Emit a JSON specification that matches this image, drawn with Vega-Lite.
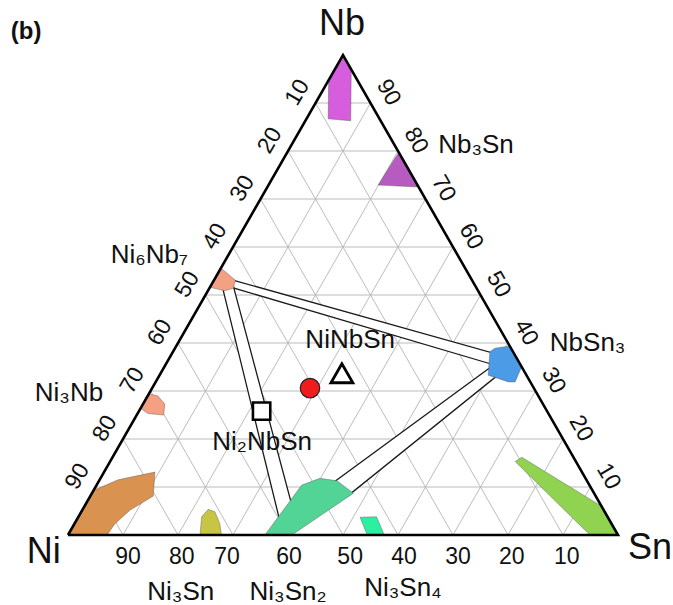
{
  "$schema": "https://vega.github.io/schema/vega-lite/v6.json",
  "width": 550,
  "height": 480,
  "autosize": {"type": "none"},
  "padding": {"left": 68, "top": 55, "right": 55, "bottom": 70},
  "background": "white",
  "config": {"view": {"stroke": null}, "text": {"font": "Liberation Sans", "color": "#111"}},
  "datasets": {
    "grid": [
      {"g": "h10", "kind": "h", "x": 5, "y": 10}, {"g": "h10", "kind": "h", "x": 95, "y": 10},
      {"g": "h20", "kind": "h", "x": 10, "y": 20}, {"g": "h20", "kind": "h", "x": 90, "y": 20},
      {"g": "h30", "kind": "h", "x": 15, "y": 30}, {"g": "h30", "kind": "h", "x": 85, "y": 30},
      {"g": "h40", "kind": "h", "x": 20, "y": 40}, {"g": "h40", "kind": "h", "x": 80, "y": 40},
      {"g": "h50", "kind": "h", "x": 25, "y": 50}, {"g": "h50", "kind": "h", "x": 75, "y": 50},
      {"g": "h60", "kind": "h", "x": 30, "y": 60}, {"g": "h60", "kind": "h", "x": 70, "y": 60},
      {"g": "h70", "kind": "h", "x": 35, "y": 70}, {"g": "h70", "kind": "h", "x": 65, "y": 70},
      {"g": "h80", "kind": "h", "x": 40, "y": 80}, {"g": "h80", "kind": "h", "x": 60, "y": 80},
      {"g": "h90", "kind": "h", "x": 45, "y": 90}, {"g": "h90", "kind": "h", "x": 55, "y": 90},
      {"g": "s10", "kind": "d", "x": 10, "y": 0}, {"g": "s10", "kind": "d", "x": 55, "y": 90},
      {"g": "s20", "kind": "d", "x": 20, "y": 0}, {"g": "s20", "kind": "d", "x": 60, "y": 80},
      {"g": "s30", "kind": "d", "x": 30, "y": 0}, {"g": "s30", "kind": "d", "x": 65, "y": 70},
      {"g": "s40", "kind": "d", "x": 40, "y": 0}, {"g": "s40", "kind": "d", "x": 70, "y": 60},
      {"g": "s50", "kind": "d", "x": 50, "y": 0}, {"g": "s50", "kind": "d", "x": 75, "y": 50},
      {"g": "s60", "kind": "d", "x": 60, "y": 0}, {"g": "s60", "kind": "d", "x": 80, "y": 40},
      {"g": "s70", "kind": "d", "x": 70, "y": 0}, {"g": "s70", "kind": "d", "x": 85, "y": 30},
      {"g": "s80", "kind": "d", "x": 80, "y": 0}, {"g": "s80", "kind": "d", "x": 90, "y": 20},
      {"g": "s90", "kind": "d", "x": 90, "y": 0}, {"g": "s90", "kind": "d", "x": 95, "y": 10},
      {"g": "n90", "kind": "d", "x": 10, "y": 0}, {"g": "n90", "kind": "d", "x": 5, "y": 10},
      {"g": "n80", "kind": "d", "x": 20, "y": 0}, {"g": "n80", "kind": "d", "x": 10, "y": 20},
      {"g": "n70", "kind": "d", "x": 30, "y": 0}, {"g": "n70", "kind": "d", "x": 15, "y": 30},
      {"g": "n60", "kind": "d", "x": 40, "y": 0}, {"g": "n60", "kind": "d", "x": 20, "y": 40},
      {"g": "n50", "kind": "d", "x": 50, "y": 0}, {"g": "n50", "kind": "d", "x": 25, "y": 50},
      {"g": "n40", "kind": "d", "x": 60, "y": 0}, {"g": "n40", "kind": "d", "x": 30, "y": 60},
      {"g": "n30", "kind": "d", "x": 70, "y": 0}, {"g": "n30", "kind": "d", "x": 35, "y": 70},
      {"g": "n20", "kind": "d", "x": 80, "y": 0}, {"g": "n20", "kind": "d", "x": 40, "y": 80},
      {"g": "n10", "kind": "d", "x": 90, "y": 0}, {"g": "n10", "kind": "d", "x": 45, "y": 90}
    ],
    "tieBands": [
      {"band": "Ni6Nb7-NbSn3", "o": 0, "x": 29, "y": 53.42},
      {"band": "Ni6Nb7-NbSn3", "o": 1, "x": 78, "y": 37.68},
      {"band": "Ni6Nb7-NbSn3", "o": 2, "x": 78, "y": 35.26},
      {"band": "Ni6Nb7-NbSn3", "o": 3, "x": 29, "y": 51.84},
      {"band": "Ni6Nb7-NbSn3", "o": 4, "x": 29, "y": 53.42},
      {"band": "Ni6Nb7-Ni3Sn2", "o": 0, "x": 28.0, "y": 52.0},
      {"band": "Ni6Nb7-Ni3Sn2", "o": 1, "x": 38.5, "y": 3.0},
      {"band": "Ni6Nb7-Ni3Sn2", "o": 2, "x": 40.75, "y": 6.0},
      {"band": "Ni6Nb7-Ni3Sn2", "o": 3, "x": 30.0, "y": 52.1},
      {"band": "Ni6Nb7-Ni3Sn2", "o": 4, "x": 28.0, "y": 52.0},
      {"band": "NbSn3-Ni3Sn2", "o": 0, "x": 78.5, "y": 36.36},
      {"band": "NbSn3-Ni3Sn2", "o": 1, "x": 48.0, "y": 10.74},
      {"band": "NbSn3-Ni3Sn2", "o": 2, "x": 51.0, "y": 8.26},
      {"band": "NbSn3-Ni3Sn2", "o": 3, "x": 78.5, "y": 33.62},
      {"band": "NbSn3-Ni3Sn2", "o": 4, "x": 78.5, "y": 36.36}
    ],
    "phases": [
      {"phase": "Nb", "o": 0, "x": 50, "y": 100},
      {"phase": "Nb", "o": 1, "x": 51.5, "y": 97},
      {"phase": "Nb", "o": 2, "x": 51.4, "y": 86.3},
      {"phase": "Nb", "o": 3, "x": 47.3, "y": 86.7},
      {"phase": "Nb", "o": 4, "x": 47.4, "y": 94.8},
      {"phase": "Nb", "o": 5, "x": 50, "y": 100},
      {"phase": "Nb3Sn", "o": 0, "x": 60.1, "y": 79.6},
      {"phase": "Nb3Sn", "o": 1, "x": 63.7, "y": 72.5},
      {"phase": "Nb3Sn", "o": 2, "x": 56.4, "y": 72.9},
      {"phase": "Nb3Sn", "o": 3, "x": 59.5, "y": 78.6},
      {"phase": "Nb3Sn", "o": 4, "x": 60.1, "y": 79.6},
      {"phase": "Ni6Nb7", "o": 0, "x": 27.8, "y": 55.6},
      {"phase": "Ni6Nb7", "o": 1, "x": 30.4, "y": 53.1},
      {"phase": "Ni6Nb7", "o": 2, "x": 30.1, "y": 51.4},
      {"phase": "Ni6Nb7", "o": 3, "x": 28.5, "y": 50.9},
      {"phase": "Ni6Nb7", "o": 4, "x": 25.8, "y": 51.6},
      {"phase": "Ni6Nb7", "o": 5, "x": 27.8, "y": 55.6},
      {"phase": "Ni3Nb", "o": 0, "x": 14.7, "y": 29.4},
      {"phase": "Ni3Nb", "o": 1, "x": 16.3, "y": 29.0},
      {"phase": "Ni3Nb", "o": 2, "x": 17.6, "y": 27.3},
      {"phase": "Ni3Nb", "o": 3, "x": 17.4, "y": 25.0},
      {"phase": "Ni3Nb", "o": 4, "x": 14.5, "y": 25.3},
      {"phase": "Ni3Nb", "o": 5, "x": 13.2, "y": 26.4},
      {"phase": "Ni3Nb", "o": 6, "x": 14.7, "y": 29.4},
      {"phase": "Ni", "o": 0, "x": 0, "y": 0},
      {"phase": "Ni", "o": 1, "x": 4.7, "y": 9.3},
      {"phase": "Ni", "o": 2, "x": 9.1, "y": 11.5},
      {"phase": "Ni", "o": 3, "x": 15.8, "y": 13.1},
      {"phase": "Ni", "o": 4, "x": 15.5, "y": 8.1},
      {"phase": "Ni", "o": 5, "x": 11.3, "y": 5.2},
      {"phase": "Ni", "o": 6, "x": 8.5, "y": 2.3},
      {"phase": "Ni", "o": 7, "x": 7.1, "y": 0},
      {"phase": "Ni", "o": 8, "x": 0, "y": 0},
      {"phase": "Ni3Sn", "o": 0, "x": 24.0, "y": 0},
      {"phase": "Ni3Sn", "o": 1, "x": 24.3, "y": 3.8},
      {"phase": "Ni3Sn", "o": 2, "x": 25.5, "y": 5.35},
      {"phase": "Ni3Sn", "o": 3, "x": 26.7, "y": 4.85},
      {"phase": "Ni3Sn", "o": 4, "x": 27.6, "y": 2.4},
      {"phase": "Ni3Sn", "o": 5, "x": 27.9, "y": 0},
      {"phase": "Ni3Sn", "o": 6, "x": 24.0, "y": 0},
      {"phase": "Ni3Sn2", "o": 0, "x": 35.8, "y": 0},
      {"phase": "Ni3Sn2", "o": 1, "x": 42.5, "y": 10.4},
      {"phase": "Ni3Sn2", "o": 2, "x": 45.8, "y": 11.8},
      {"phase": "Ni3Sn2", "o": 3, "x": 48.9, "y": 11.3},
      {"phase": "Ni3Sn2", "o": 4, "x": 51.9, "y": 8.7},
      {"phase": "Ni3Sn2", "o": 5, "x": 40.7, "y": 0},
      {"phase": "Ni3Sn2", "o": 6, "x": 35.8, "y": 0},
      {"phase": "Ni3Sn4", "o": 0, "x": 53.1, "y": 3.7},
      {"phase": "Ni3Sn4", "o": 1, "x": 56.1, "y": 3.8},
      {"phase": "Ni3Sn4", "o": 2, "x": 57.5, "y": 0},
      {"phase": "Ni3Sn4", "o": 3, "x": 54.4, "y": 0},
      {"phase": "Ni3Sn4", "o": 4, "x": 53.1, "y": 3.7},
      {"phase": "Sn", "o": 0, "x": 81.3, "y": 15.3},
      {"phase": "Sn", "o": 1, "x": 82.5, "y": 16.2},
      {"phase": "Sn", "o": 2, "x": 97.0, "y": 6.0},
      {"phase": "Sn", "o": 3, "x": 100, "y": 0},
      {"phase": "Sn", "o": 4, "x": 94.9, "y": 0},
      {"phase": "Sn", "o": 5, "x": 81.3, "y": 15.3},
      {"phase": "NbSn3", "o": 0, "x": 76.7, "y": 38.2},
      {"phase": "NbSn3", "o": 1, "x": 77.6, "y": 38.9},
      {"phase": "NbSn3", "o": 2, "x": 80.4, "y": 39.4},
      {"phase": "NbSn3", "o": 3, "x": 82.5, "y": 35.1},
      {"phase": "NbSn3", "o": 4, "x": 81.3, "y": 31.9},
      {"phase": "NbSn3", "o": 5, "x": 80.1, "y": 31.9},
      {"phase": "NbSn3", "o": 6, "x": 76.4, "y": 33.3},
      {"phase": "NbSn3", "o": 7, "x": 76.7, "y": 38.2}
    ],
    "frame": [
      {"o": 0, "x": 0, "y": 0},
      {"o": 1, "x": 100, "y": 0},
      {"o": 2, "x": 50, "y": 100},
      {"o": 3, "x": 0, "y": 0}
    ],
    "samples": [
      {"sample": "measured", "x": 44.0, "y": 30.6},
      {"sample": "NiNbSn", "x": 49.8, "y": 33.7},
      {"sample": "Ni2NbSn", "x": 35.2, "y": 25.8}
    ],
    "ticksLeft": [
      {"t": "10", "x": 41.7, "y": 92.2}, {"t": "20", "x": 36.7, "y": 82.2},
      {"t": "30", "x": 31.7, "y": 72.2}, {"t": "40", "x": 26.7, "y": 62.2},
      {"t": "50", "x": 21.7, "y": 52.2}, {"t": "60", "x": 16.7, "y": 42.2},
      {"t": "70", "x": 11.7, "y": 32.2}, {"t": "80", "x": 6.7, "y": 22.2},
      {"t": "90", "x": 1.7, "y": 12.2}
    ],
    "ticksRight": [
      {"t": "90", "x": 58.3, "y": 92.2}, {"t": "80", "x": 63.3, "y": 82.2},
      {"t": "70", "x": 68.3, "y": 72.2}, {"t": "60", "x": 73.3, "y": 62.2},
      {"t": "50", "x": 78.3, "y": 52.2}, {"t": "40", "x": 83.3, "y": 42.2},
      {"t": "30", "x": 88.3, "y": 32.2}, {"t": "20", "x": 93.3, "y": 22.2},
      {"t": "10", "x": 98.3, "y": 12.2}
    ],
    "ticksBottom": [
      {"t": "90", "x": 10.9, "y": -4.5}, {"t": "80", "x": 20.7, "y": -4.5},
      {"t": "70", "x": 28.9, "y": -4.5}, {"t": "60", "x": 40.2, "y": -4.5},
      {"t": "50", "x": 51.3, "y": -4.5}, {"t": "40", "x": 61.1, "y": -4.5},
      {"t": "30", "x": 70.9, "y": -4.5}, {"t": "20", "x": 80.7, "y": -4.5},
      {"t": "10", "x": 90.7, "y": -4.5}
    ],
    "vertexLabels": [
      {"t": "Nb", "x": 49.8, "y": 106.5},
      {"t": "Ni", "x": -4.4, "y": -3.5}
    ],
    "labelsCenter": [
      {"t": "NiNbSn", "x": 51.3, "y": 40.6},
      {"t": "Ni₂NbSn", "x": 35.3, "y": 19.4},
      {"t": "Ni₃Sn", "x": 20.5, "y": -11.9},
      {"t": "Ni₃Sn₂", "x": 40.0, "y": -11.9},
      {"t": "Ni₃Sn₄", "x": 60.9, "y": -11.0}
    ],
    "labelsLeft": [
      {"t": "Nb₃Sn", "x": 67.3, "y": 81.25},
      {"t": "NbSn₃", "x": 87.6, "y": 40.0}
    ],
    "labelsRight": [
      {"t": "Ni₆Nb₇", "x": 21.8, "y": 58.3},
      {"t": "Ni₃Nb", "x": 6.4, "y": 29.6}
    ]
  },
  "encoding": {
    "x": {"field": "x", "type": "quantitative", "scale": {"domain": [0, 100], "nice": false, "zero": false}, "axis": null},
    "y": {"field": "y", "type": "quantitative", "scale": {"domain": [0, 100], "nice": false, "zero": false}, "axis": null}
  },
  "layer": [
    {
      "data": {"name": "grid"},
      "transform": [{"filter": "datum.kind === 'h'"}],
      "mark": {"type": "line", "stroke": "#d2d2d2", "strokeWidth": 1.6},
      "encoding": {"detail": {"field": "g"}}
    },
    {
      "data": {"name": "grid"},
      "transform": [{"filter": "datum.kind === 'd'"}],
      "mark": {"type": "line", "stroke": "#b4b4b4", "strokeWidth": 0.9},
      "encoding": {"detail": {"field": "g"}}
    },
    {
      "data": {"name": "tieBands"},
      "mark": {"type": "line", "fill": "white", "stroke": "#1a1a1a", "strokeWidth": 1.3},
      "encoding": {"detail": {"field": "band"}, "order": {"field": "o"}}
    },
    {
      "data": {"name": "phases"},
      "mark": {"type": "line", "stroke": "#555555", "strokeWidth": 0.7, "strokeOpacity": 0.6},
      "encoding": {
        "detail": {"field": "phase"},
        "order": {"field": "o"},
        "fill": {
          "field": "phase",
          "type": "nominal",
          "legend": null,
          "scale": {
            "domain": ["Nb", "Nb3Sn", "Ni6Nb7", "Ni3Nb", "Ni", "Ni3Sn", "Ni3Sn2", "Ni3Sn4", "Sn", "NbSn3"],
            "range": ["#d65ddc", "#b65bc0", "#f5a083", "#f5a083", "#d9924f", "#c8c444", "#52d496", "#2bf0a0", "#90d350", "#4b9be6"]
          }
        }
      }
    },
    {
      "data": {"name": "frame"},
      "mark": {"type": "line", "stroke": "black", "strokeWidth": 2.6, "strokeJoin": "miter"},
      "encoding": {"order": {"field": "o"}}
    },
    {
      "data": {"name": "samples"},
      "transform": [{"filter": "datum.sample === 'measured'"}],
      "mark": {"type": "point", "shape": "circle", "filled": true, "fill": "#ee1c1c", "stroke": "#222222", "strokeWidth": 1.2, "size": 380, "opacity": 1}
    },
    {
      "data": {"name": "samples"},
      "transform": [{"filter": "datum.sample === 'NiNbSn'"}],
      "mark": {"type": "point", "shape": "triangle-up", "filled": true, "fill": "white", "stroke": "black", "strokeWidth": 2.8, "size": 480, "opacity": 1}
    },
    {
      "data": {"name": "samples"},
      "transform": [{"filter": "datum.sample === 'Ni2NbSn'"}],
      "mark": {"type": "point", "shape": "square", "filled": true, "fill": "white", "stroke": "black", "strokeWidth": 2.6, "size": 300, "opacity": 1}
    },
    {
      "data": {"name": "ticksLeft"},
      "mark": {"type": "text", "fontSize": 23, "angle": -60, "align": "center", "baseline": "middle"},
      "encoding": {"text": {"field": "t"}}
    },
    {
      "data": {"name": "ticksRight"},
      "mark": {"type": "text", "fontSize": 23, "angle": 60, "align": "center", "baseline": "middle"},
      "encoding": {"text": {"field": "t"}}
    },
    {
      "data": {"name": "ticksBottom"},
      "mark": {"type": "text", "fontSize": 23, "align": "center", "baseline": "middle"},
      "encoding": {"text": {"field": "t"}}
    },
    {
      "data": {"name": "vertexLabels"},
      "mark": {"type": "text", "fontSize": 36, "align": "center", "baseline": "middle"},
      "encoding": {"text": {"field": "t"}}
    },
    {
      "data": {"values": [{"t": "Sn", "x": 101.8, "y": -2.8}]},
      "mark": {"type": "text", "fontSize": 36, "align": "left", "baseline": "middle"},
      "encoding": {"text": {"field": "t"}}
    },
    {
      "data": {"values": [{"t": "(b)", "x": -10.4, "y": 104.8}]},
      "mark": {"type": "text", "fontSize": 24, "fontWeight": "bold", "align": "left", "baseline": "middle"},
      "encoding": {"text": {"field": "t"}}
    },
    {
      "data": {"name": "labelsCenter"},
      "mark": {"type": "text", "fontSize": 26, "align": "center", "baseline": "middle"},
      "encoding": {"text": {"field": "t"}}
    },
    {
      "data": {"name": "labelsLeft"},
      "mark": {"type": "text", "fontSize": 26, "align": "left", "baseline": "middle"},
      "encoding": {"text": {"field": "t"}}
    },
    {
      "data": {"name": "labelsRight"},
      "mark": {"type": "text", "fontSize": 26, "align": "right", "baseline": "middle"},
      "encoding": {"text": {"field": "t"}}
    }
  ]
}
